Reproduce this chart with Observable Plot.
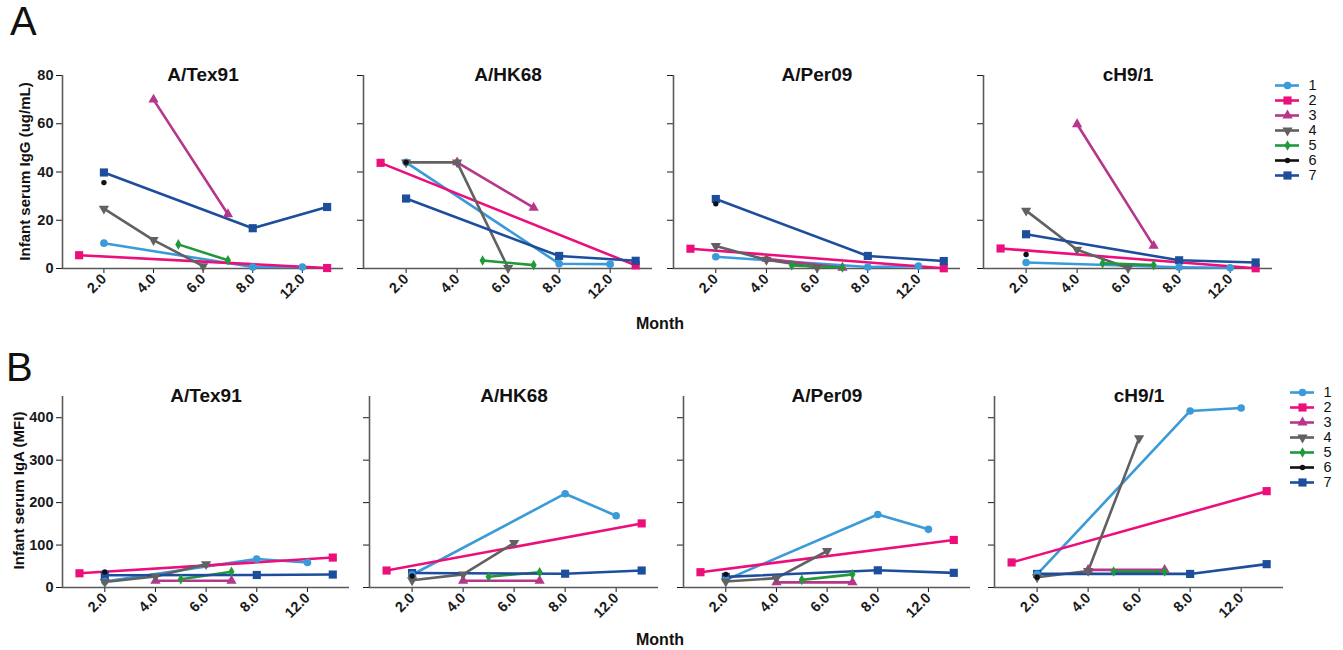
<!DOCTYPE html>
<html>
<head>
<meta charset="utf-8">
<script src="https://cdn.jsdelivr.net/npm/d3@7"></script>
<script src="https://cdn.jsdelivr.net/npm/@observablehq/plot@0.6"></script>
<style>
  body { margin: 0; background: #fff; }
  #chart { position: relative; width: 1343px; height: 650px; background: #fff; font-family: "Liberation Sans", Arial, sans-serif; }
  .abs { position: absolute; }
  .big { font-size: 40px; color: #111; line-height: 1; }
  .xlab { font-size: 16px; font-weight: bold; color: #111; width: 100px; text-align: center; line-height: 1; }
  .ylab { font-size: 15px; font-weight: bold; color: #111; width: 260px; text-align: center; line-height: 1; transform: rotate(-90deg); transform-origin: center center; }
  #chart svg [aria-label^="x-axis"] text, #chart svg [aria-label^="y-axis"] text { font-size: 14.5px; font-weight: bold; fill: #1a1a1a; }
</style>
</head>
<body>
<div id="chart"></div>
<script>
// ---------- data ----------
const series = ["1", "2", "3", "4", "5", "6", "7"];
const seriesColors = ["#3b9ad8", "#ec0f7b", "#b6368c", "#616161", "#21993b", "#111111", "#1c4e9c"];
const panelTitles = ["A/Tex91", "A/HK68", "A/Per09", "cH9/1"];
const tickPositions = [2, 4, 6, 8, 10];
const tickLabels = ["2.0", "4.0", "6.0", "8.0", "12.0"];
const iggTicks = [0, 20, 40, 60, 80];
const igaTicks = [0, 100, 200, 300, 400];
const iggLabel = "Infant serum IgG (ug/mL)";
const igaLabel = "Infant serum IgA (MFI)";

// rows: [series, x position, value]
const iggTex91 = [
  ["1", 2, 10.5], ["1", 8, 0.6], ["1", 10, 0.6],
  ["2", 1, 5.5], ["2", 11, 0.2],
  ["3", 4, 70], ["3", 7, 22.5],
  ["4", 2, 24.8], ["4", 4, 11.8], ["4", 6, 1],
  ["5", 5, 10], ["5", 7, 3.4],
  ["6", 2, 35.6],
  ["7", 2, 39.8], ["7", 8, 16.7], ["7", 11, 25.5]
];
const iggHK68 = [
  ["1", 2, 44], ["1", 8, 2], ["1", 10, 1.8],
  ["2", 1, 43.8], ["2", 11, 1.3],
  ["3", 4, 44], ["3", 7, 25.2],
  ["4", 2, 44], ["4", 4, 44], ["4", 6, 0.2],
  ["5", 5, 3.3], ["5", 7, 1.4],
  ["6", 2, 44],
  ["7", 2, 29], ["7", 8, 5.2], ["7", 11, 3.2]
];
const iggPer09 = [
  ["1", 2, 4.9], ["1", 8, 0.6], ["1", 10, 1],
  ["2", 1, 8.2], ["2", 11, 0.1],
  ["3", 4, 4], ["3", 7, 0.3],
  ["4", 2, 9.3], ["4", 4, 3.6], ["4", 6, 0.4],
  ["5", 5, 1.3], ["5", 7, 0.4],
  ["6", 2, 26.8],
  ["7", 2, 28.8], ["7", 8, 5.2], ["7", 11, 3.1]
];
const iggCH91 = [
  ["1", 2, 2.5], ["1", 8, 0.5], ["1", 10, 0.3],
  ["2", 1, 8.3], ["2", 11, 0.1],
  ["3", 4, 59.8], ["3", 7, 9.4],
  ["4", 2, 24], ["4", 4, 7.8], ["4", 6, 0.2],
  ["5", 5, 2.2], ["5", 7, 1.4],
  ["6", 2, 5.8],
  ["7", 2, 14.2], ["7", 8, 3.4], ["7", 11, 2.5]
];
const igaTex91 = [
  ["1", 2, 14], ["1", 8, 67], ["1", 10, 59],
  ["2", 1, 33.5], ["2", 11, 70.5],
  ["3", 4, 16], ["3", 7, 16],
  ["4", 2, 13], ["4", 4, 26], ["4", 6, 55],
  ["5", 5, 19.5], ["5", 7, 37],
  ["6", 2, 36.5],
  ["7", 2, 29], ["7", 8, 29.5], ["7", 11, 30.5]
];
const igaHK68 = [
  ["1", 2, 30], ["1", 8, 221], ["1", 10, 169],
  ["2", 1, 40], ["2", 11, 151],
  ["3", 4, 16], ["3", 7, 16],
  ["4", 2, 17], ["4", 4, 31], ["4", 6, 105],
  ["5", 5, 25.5], ["5", 7, 36],
  ["6", 2, 27],
  ["7", 2, 34], ["7", 8, 32.5], ["7", 11, 40]
];
const igaPer09 = [
  ["1", 2, 18], ["1", 8, 172], ["1", 10, 137],
  ["2", 1, 36], ["2", 11, 112],
  ["3", 4, 12], ["3", 7, 12],
  ["4", 2, 14], ["4", 4, 22], ["4", 6, 86],
  ["5", 5, 18], ["5", 7, 31],
  ["6", 2, 31],
  ["7", 2, 25], ["7", 8, 40.5], ["7", 11, 34.5]
];
const igaCH91 = [
  ["1", 2, 31], ["1", 8, 416], ["1", 10, 423],
  ["2", 1, 59], ["2", 11, 227],
  ["3", 4, 41.5], ["3", 7, 41.5],
  ["4", 2, 24], ["4", 4, 39], ["4", 6, 352],
  ["5", 5, 37.5], ["5", 7, 37.5],
  ["6", 2, 24],
  ["7", 2, 32], ["7", 8, 32], ["7", 11, 55]
];

// ---------- styling / layout ----------
const triangleDown = {
  draw(context, size) {
    const y = -Math.sqrt(size / (Math.sqrt(3) * 3));
    context.moveTo(0, -y * 2);
    context.lineTo(-Math.sqrt(3) * y, y);
    context.lineTo(Math.sqrt(3) * y, y);
    context.closePath();
  }
};
const seriesSymbols = ["circle", "square", "triangle", triangleDown, "diamond", "circle", "square"];
const seriesRadius = [3.8, 4.6, 3.8, 3.8, 3.2, 2.7, 4.6];
const xDomain = [0.33, 11.66];
const font = '"Liberation Sans", Arial, sans-serif';

const chart = document.getElementById("chart");

function addDiv(cls, text, left, top) {
  const d = document.createElement("div");
  d.className = "abs " + cls;
  d.textContent = text;
  d.style.left = left + "px";
  d.style.top = top + "px";
  chart.appendChild(d);
  return d;
}

const mL = 62, mR = 10, mT = 22, mB = 60;

function panel(rows, title, first, yDomain, yTicks, frameLeft, frameRight, frameTop, frameHeight) {
  const p = Plot.plot({
    width: (frameRight - frameLeft) + mL + mR,
    height: frameHeight + mT + mB,
    marginLeft: mL, marginRight: mR, marginTop: mT, marginBottom: mB,
    style: { fontFamily: font, fontSize: "14px", fontWeight: "bold", color: "#1a1a1a", background: "transparent", overflow: "visible" },
    x: { domain: xDomain, ticks: tickPositions, tickFormat: d => tickLabels[tickPositions.indexOf(d)], tickRotate: -45, tickSize: 5, tickPadding: 3, label: null },
    y: { domain: yDomain, ticks: yTicks, tickFormat: first ? (d => String(d)) : (() => ""), tickSize: 6, tickPadding: 3, label: null },
    color: { domain: series, range: seriesColors },
    symbol: { domain: series, range: seriesSymbols },
    r: { type: "identity" },
    marks: [
      Plot.ruleY([yDomain[0]], { stroke: "#5a5a5a", strokeWidth: 1.6 }),
      Plot.ruleX([xDomain[0]], { stroke: "#5a5a5a", strokeWidth: 1.6 }),
      Plot.line(rows, { x: d => d[1], y: d => d[2], z: d => d[0], stroke: d => d[0], strokeWidth: 2.6 }),
      Plot.dot(rows, { x: d => d[1], y: d => d[2], fill: d => d[0], symbol: d => d[0], r: d => seriesRadius[series.indexOf(d[0])] }),
      Plot.text([title], { frameAnchor: "top", lineAnchor: "middle", dy: -1, fontSize: 19, fontWeight: "bold", fill: "#111" })
    ]
  });
  p.style.position = "absolute";
  p.style.left = (frameLeft - mL) + "px";
  p.style.top = (frameTop - mT) + "px";
  chart.appendChild(p);
}

function legend(left, top) {
  const lg = Plot.plot({
    width: 70, height: 100,
    marginLeft: 0, marginRight: 46, marginTop: 5, marginBottom: 5,
    style: { fontFamily: font, background: "transparent", overflow: "visible" },
    x: { domain: [0, 1], axis: null },
    y: { type: "point", domain: series, axis: null, padding: 0 },
    color: { domain: series, range: seriesColors },
    symbol: { domain: series, range: seriesSymbols },
    r: { type: "identity" },
    marks: [
      Plot.ruleY(series, { y: d => d, x1: 0, x2: 1, stroke: d => d, strokeWidth: 2.6 }),
      Plot.dot(series, { y: d => d, x: 0.5, fill: d => d, symbol: d => d, r: d => seriesRadius[series.indexOf(d)] }),
      Plot.text(series, { y: d => d, x: 1, dx: 9, text: d => d, textAnchor: "start", fontSize: 14.5, fill: "#111" })
    ]
  });
  lg.style.position = "absolute";
  lg.style.left = left + "px";
  lg.style.top = top + "px";
  chart.appendChild(lg);
}

// top row (IgG)
const topLeft = [62, 363, 673, 983], topRight = [343, 652, 960, 1272];
const topData = [iggTex91, iggHK68, iggPer09, iggCH91];
topData.forEach((rows, i) => panel(rows, panelTitles[i], i === 0, [0, 80], iggTicks, topLeft[i], topRight[i], 75, 193));

// bottom row (IgA)
const botLeft = [62, 369, 683, 994], botRight = [349, 658, 970, 1283];
const botData = [igaTex91, igaHK68, igaPer09, igaCH91];
botData.forEach((rows, i) => panel(rows, panelTitles[i], i === 0, [0, 450], igaTicks, botLeft[i], botRight[i], 396, 191));

legend(1275, 80);
legend(1290, 387);

addDiv("big", "A", 10, 1);
addDiv("big", "B", 6, 347);
addDiv("xlab", "Month", 610, 316);
addDiv("xlab", "Month", 610, 632);
addDiv("ylab", iggLabel, 24 - 130, 172 - 8);
addDiv("ylab", igaLabel, 18 - 130, 491 - 8);
</script>
</body>
</html>
